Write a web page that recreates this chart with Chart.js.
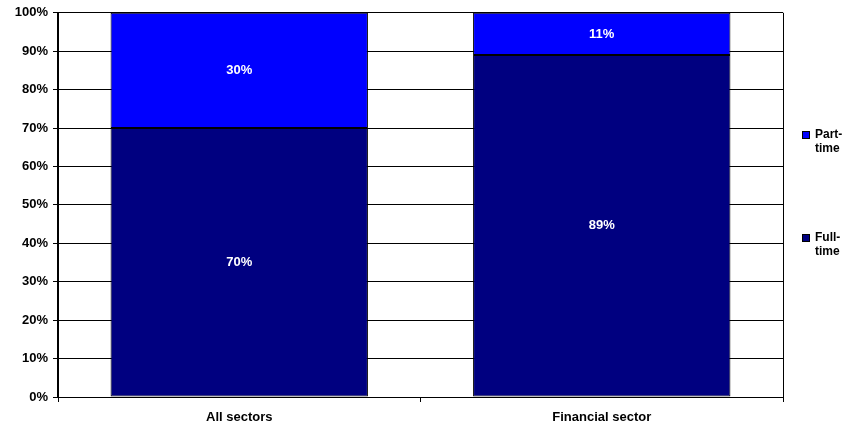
<!DOCTYPE html>
<html>
<head>
<meta charset="utf-8">
<script src="https://cdn.jsdelivr.net/npm/chart.js@4/dist/chart.umd.min.js"></script>
<style>
  html, body { margin: 0; padding: 0; background: #fff; }
  #wrap { width: 856px; height: 425px; position: relative; }
</style>
</head>
<body>
<div id="wrap"><canvas id="chart"></canvas></div>
<script>
// Employment split by sector (percent of staff)
const sectors = ['All sectors', 'Financial sector'];
const fullTime = [70, 89];
const partTime = [30, 11];
const seriesNames = [['Full-', 'time'], ['Part-', 'time']];

const FONT = '"Liberation Sans", Arial, sans-serif';

// White value labels centred in each stacked segment
const segmentLabels = {
  id: 'segmentLabels',
  afterDatasetsDraw(chart) {
    const ctx = chart.ctx;
    ctx.save();
    ctx.font = 'bold 13px ' + FONT;
    ctx.fillStyle = '#fff';
    ctx.textAlign = 'center';
    ctx.textBaseline = 'middle';
    chart.data.datasets.forEach((ds, i) => {
      chart.getDatasetMeta(i).data.forEach((bar, j) => {
        const mid = (bar.y + bar.base) / 2;
        ctx.fillText(ds.data[j] + '%', bar.x, mid);
      });
    });
    ctx.restore();
  }
};

// Plot frame on the right plus a two-line legend beside it
const frameAndLegend = {
  id: 'frameAndLegend',
  afterDraw(chart) {
    const ctx = chart.ctx;
    const a = chart.chartArea;
    ctx.save();
    ctx.strokeStyle = '#000';
    ctx.lineWidth = 1;
    ctx.beginPath();
    ctx.moveTo(a.right + 0.5, a.top);
    ctx.lineTo(a.right + 0.5, a.bottom);
    ctx.stroke();

    const items = [
      { name: seriesNames[1], color: chart.data.datasets[1].backgroundColor, y: 135 },
      { name: seriesNames[0], color: chart.data.datasets[0].backgroundColor, y: 238 }
    ];
    ctx.font = 'bold 12px ' + FONT;
    ctx.textBaseline = 'middle';
    ctx.textAlign = 'left';
    items.forEach(it => {
      ctx.fillStyle = it.color;
      ctx.fillRect(802, it.y - 4, 8, 8);
      ctx.strokeStyle = '#000';
      ctx.strokeRect(802.5, it.y - 3.5, 7, 7);
      ctx.fillStyle = '#000';
      ctx.fillText(it.name[0], 815, it.y);
      ctx.fillText(it.name[1], 815, it.y + 14);
    });
    ctx.restore();
  }
};

new Chart(document.getElementById('chart'), {
  type: 'bar',
  data: {
    labels: sectors,
    datasets: [
      {
        label: 'Full-time',
        data: fullTime,
        backgroundColor: '#000080',
        borderColor: '#000',
        borderWidth: 1,
        borderSkipped: false,
        barPercentage: 0.71,
        categoryPercentage: 1
      },
      {
        label: 'Part-time',
        data: partTime,
        backgroundColor: '#0000ff',
        borderColor: '#000',
        borderWidth: 1,
        borderSkipped: false,
        barPercentage: 0.71,
        categoryPercentage: 1
      }
    ]
  },
  options: {
    responsive: true,
    maintainAspectRatio: false,
    animation: false,
    layout: { padding: { top: 11, right: 73, left: 0, bottom: 0 } },
    plugins: {
      legend: { display: false },
      tooltip: { enabled: false }
    },
    scales: {
      x: {
        stacked: true,
        afterFit: s => { s.height = 28; },
        grid: {
          offset: true,
          drawOnChartArea: false,
          color: '#000',
          tickLength: 5
        },
        border: { color: '#000', width: 1 },
        ticks: {
          color: '#000',
          font: { family: FONT, size: 13, weight: 'bold' },
          padding: 8
        }
      },
      y: {
        stacked: true,
        min: 0,
        max: 100,
        afterFit: s => { s.width = 58; },
        grid: {
          color: '#000',
          lineWidth: 1,
          tickLength: 5
        },
        border: { color: '#000', width: 2 },
        ticks: {
          stepSize: 10,
          color: '#000',
          padding: 5,
          font: { family: FONT, size: 13, weight: 'bold' },
          callback: v => v + '%'
        }
      }
    }
  },
  plugins: [segmentLabels, frameAndLegend]
});
</script>
</body>
</html>
